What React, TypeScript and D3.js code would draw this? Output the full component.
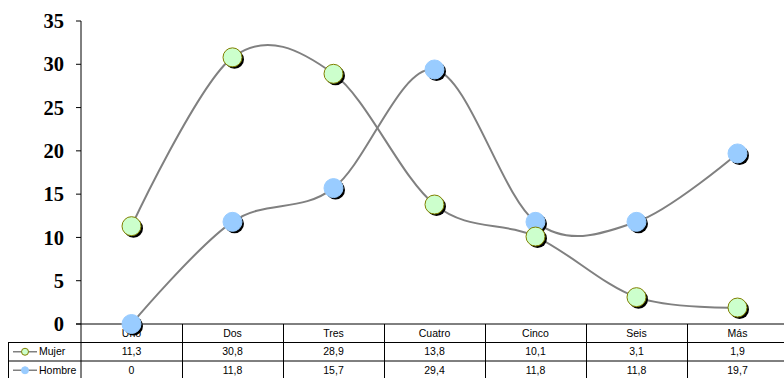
import { useEffect, useRef } from "react";
import * as d3 from "d3";

const categories = ["Uno", "Dos", "Tres", "Cuatro", "Cinco", "Seis", "Más"];
const mujer = [11.3, 30.8, 28.9, 13.8, 10.1, 3.1, 1.9];
const hombre = [0, 11.8, 15.7, 29.4, 11.8, 11.8, 19.7];
const yTicks = [0, 5, 10, 15, 20, 25, 30, 35];

const fmt = (v: number) => String(v).replace(".", ",");

const App: React.FC = () => {
  const svgRef = useRef<SVGSVGElement>(null);

  useEffect(() => {
    if (!svgRef.current) return;
    const svg = d3.select(svgRef.current);
    svg.selectAll("*").remove();

    const left = 81;
    const right = 788;
    const top = 21;
    const bottom = 324;
    const rowH = 18.5;

    const x = d3.scaleBand<string>().domain(categories).range([left, right]);
    const y = d3.scaleLinear().domain([0, 35]).range([bottom, top]);
    const cx = (c: string) => (x(c) as number) + x.bandwidth() / 2;

    const series = [
      { name: "Mujer", values: mujer, fill: "#ccffcc", stroke: "#808000" },
      { name: "Hombre", values: hombre, fill: "#99ccff", stroke: "#99ccff" },
    ];

    // y axis
    svg
      .append("line")
      .attr("x1", left)
      .attr("x2", left)
      .attr("y1", top)
      .attr("y2", 380)
      .attr("stroke", "#000");
    svg
      .selectAll(".ytick")
      .data(yTicks)
      .enter()
      .append("line")
      .attr("x1", left - 5)
      .attr("x2", left)
      .attr("y1", d => y(d))
      .attr("y2", d => y(d))
      .attr("stroke", "#000");
    svg
      .selectAll(".ylab")
      .data(yTicks)
      .enter()
      .append("text")
      .attr("x", left - 17)
      .attr("y", d => y(d))
      .attr("dy", "0.35em")
      .attr("text-anchor", "end")
      .attr("font-family", "Liberation Serif, Times New Roman, serif")
      .attr("font-weight", "bold")
      .attr("font-size", 20.5)
      .text(d => d);

    // data table
    const tbl = svg.append("g").attr("font-family", "Liberation Sans, Arial, sans-serif").attr("font-size", 10.5);
    tbl
      .append("line")
      .attr("x1", left - 5)
      .attr("x2", right)
      .attr("y1", bottom)
      .attr("y2", bottom)
      .attr("stroke", "#000");
    [bottom + rowH, bottom + rowH * 2].forEach(yy =>
      tbl
        .append("line")
        .attr("x1", 8)
        .attr("x2", right)
        .attr("y1", yy)
        .attr("y2", yy)
        .attr("stroke", "#000")
    );
    tbl
      .append("line")
      .attr("x1", 8.5)
      .attr("x2", 8.5)
      .attr("y1", bottom + rowH)
      .attr("y2", 380)
      .attr("stroke", "#000");
    tbl
      .selectAll(".col")
      .data(categories.slice(1))
      .enter()
      .append("line")
      .attr("x1", d => Math.round(x(d) as number) + 0.5)
      .attr("x2", d => Math.round(x(d) as number) + 0.5)
      .attr("y1", bottom)
      .attr("y2", 380)
      .attr("stroke", "#000");
    tbl
      .selectAll(".cat")
      .data(categories)
      .enter()
      .append("text")
      .attr("x", d => cx(d))
      .attr("y", bottom + rowH / 2)
      .attr("dy", "0.35em")
      .attr("text-anchor", "middle")
      .text(d => d);
    series.forEach((s, i) => {
      const ry = bottom + rowH * (i + 1) + rowH / 2;
      tbl
        .selectAll(`.v${i}`)
        .data(s.values)
        .enter()
        .append("text")
        .attr("x", (_, j) => cx(categories[j]))
        .attr("y", ry)
        .attr("dy", "0.35em")
        .attr("text-anchor", "middle")
        .text(d => fmt(d));
      tbl
        .append("line")
        .attr("x1", 13)
        .attr("x2", 37)
        .attr("y1", ry)
        .attr("y2", ry)
        .attr("stroke", "#808080")
        .attr("stroke-width", 1.5);
      tbl
        .append("circle")
        .attr("cx", 25)
        .attr("cy", ry)
        .attr("r", 3.5)
        .attr("fill", s.fill)
        .attr("stroke", s.stroke);
      tbl
        .append("text")
        .attr("x", 39)
        .attr("y", ry)
        .attr("dy", "0.35em")
        .text(s.name);
    });

    // lines
    const line = d3
      .line<number>()
      .x((_, j) => cx(categories[j]))
      .y(d => y(d))
      .curve(d3.curveCardinal.tension(0));
    series.forEach(s => {
      svg
        .append("path")
        .datum(s.values)
        .attr("fill", "none")
        .attr("stroke", "#808080")
        .attr("stroke-width", 2)
        .attr("d", line);
    });

    // markers (Hombre below Mujer)
    [series[1], series[0]].forEach(s => {
      const g = svg.append("g");
      s.values.forEach((v, j) => {
        g.append("circle")
          .attr("cx", cx(categories[j]) + 2)
          .attr("cy", y(v) + 2)
          .attr("r", 9.5)
          .attr("fill", "#000");
        g.append("circle")
          .attr("cx", cx(categories[j]))
          .attr("cy", y(v))
          .attr("r", 9.5)
          .attr("fill", s.fill)
          .attr("stroke", s.stroke)
          .attr("stroke-width", 1);
      });
    });
  }, []);

  return (
    <svg
      ref={svgRef}
      width={784}
      height={378}
      style={{ position: "absolute", left: 0, top: 0, background: "#fff" }}
    />
  );
};

export default App;
